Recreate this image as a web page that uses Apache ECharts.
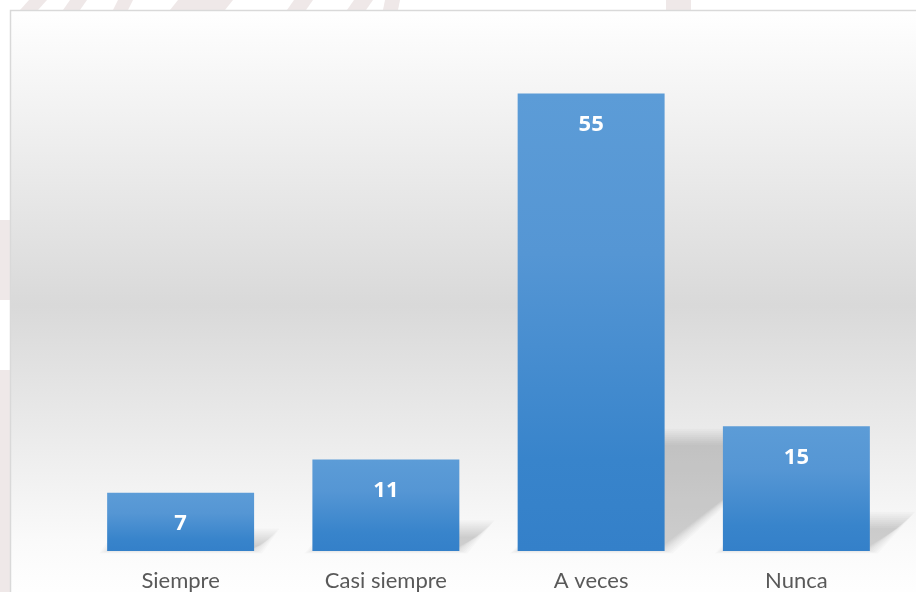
<!DOCTYPE html>
<html>
<head>
<meta charset="utf-8">
<script src="https://cdn.jsdelivr.net/npm/echarts@6/dist/echarts.min.js"></script>
<style>
html,body{margin:0;padding:0;background:#ffffff;}
#chart{width:916px;height:592px;}
</style>
</head>
<body>
<div id="chart"></div>
<script>
const categories = ['Siempre', 'Casi siempre', 'A veces', 'Nunca'];
const values = [7, 11, 55, 15];
const yMax = 60;

const chart = echarts.init(document.getElementById('chart'));

const barFill = new echarts.graphic.LinearGradient(0, 0, 0, 1, [
  {offset: 0, color: '#5c9cd7'},
  {offset: 0.35, color: '#5596d4'},
  {offset: 0.8, color: '#3884cb'},
  {offset: 1, color: '#3480c9'}
]);

const wm = '#efe8e8';
function stripe(x1, x2, slant) {
  return {type: 'polygon', z: 0, silent: true,
    shape: {points: [[x1 + slant, 0], [x2 + slant, 0], [x2, 10], [x1, 10]]},
    style: {fill: wm}};
}

chart.setOption({
  animation: false,
  graphic: [
    stripe(20, 38, 9),
    stripe(63, 80, 7),
    stripe(113, 128, 5),
    stripe(170, 225, 8),
    stripe(287, 306, 7),
    stripe(347, 366, 7),
    stripe(383, 398, 2),
    stripe(666, 691, 0),
    {type: 'rect', z: 0, silent: true, shape: {x: 0, y: 220, width: 10, height: 80}, style: {fill: wm}},
    {type: 'rect', z: 0, silent: true, shape: {x: 0, y: 370, width: 10, height: 230}, style: {fill: wm}},
    {type: 'rect', z: 1, silent: true,
      shape: {x: 10.5, y: 10.5, width: 1000, height: 590},
      style: {
        stroke: '#d9d9d9', lineWidth: 1.5,
        fill: new echarts.graphic.LinearGradient(0, 0, 0, 1, [
          {offset: 0, color: '#ffffff'},
          {offset: 0.5, color: '#d9d9d9'},
          {offset: 0.9, color: '#fafafa'},
          {offset: 1, color: '#ffffff'}
        ])
      }}
  ],
  grid: {left: 78, right: 17, top: 52, bottom: 40},
  xAxis: {
    type: 'category',
    z: 10,
    data: categories,
    axisLine: {show: false},
    axisTick: {show: false},
    axisLabel: {color: '#595959', fontFamily: 'Lato', fontSize: 22, margin: 19}
  },
  yAxis: {
    type: 'value', min: 0, max: yMax, show: false,
    splitLine: {show: false}
  },
  series: [
    {
      type: 'custom',
      z: 3,
      silent: true,
      data: categories.map((c, i) => [i, values[i]]),
      encode: {x: 0, y: 1},
      renderItem: function (params, api) {
        const base = api.coord([api.value(0), 0]);
        const top = api.coord([api.value(0), api.value(1)]);
        const bw = api.size([1, 0])[0] * 0.716;
        const xl = base[0] - bw / 2, xr = base[0] + bw / 2;
        const h = base[1] - top[1];
        const dx = h * 0.3, dy = h * 0.25;
        const by = base[1];
        const children = [];
        for (let o = -8; o <= 8; o += 2) {
          const ty = by - dy - o;
          const bb = by + Math.max(0, o) * 0.3;
          children.push({
            type: 'polygon',
            shape: {points: [[xl - o, bb], [xr + o, bb], [xr + dx + o, ty], [xl + dx - o, ty]]},
            style: {fill: 'rgba(0,0,0,0.02)'}
          });
        }
        return {type: 'group', children: children};
      }
    },
    {
      type: 'bar',
      z: 5,
      data: values,
      barCategoryGap: '28.4%',
      itemStyle: {color: barFill},
      label: {
        show: true, position: 'insideTop', distance: 20,
        color: '#ffffff', fontFamily: '"Open Sans"', fontWeight: 'bold', fontSize: 22
      }
    }
  ]
});
</script>
</body>
</html>
